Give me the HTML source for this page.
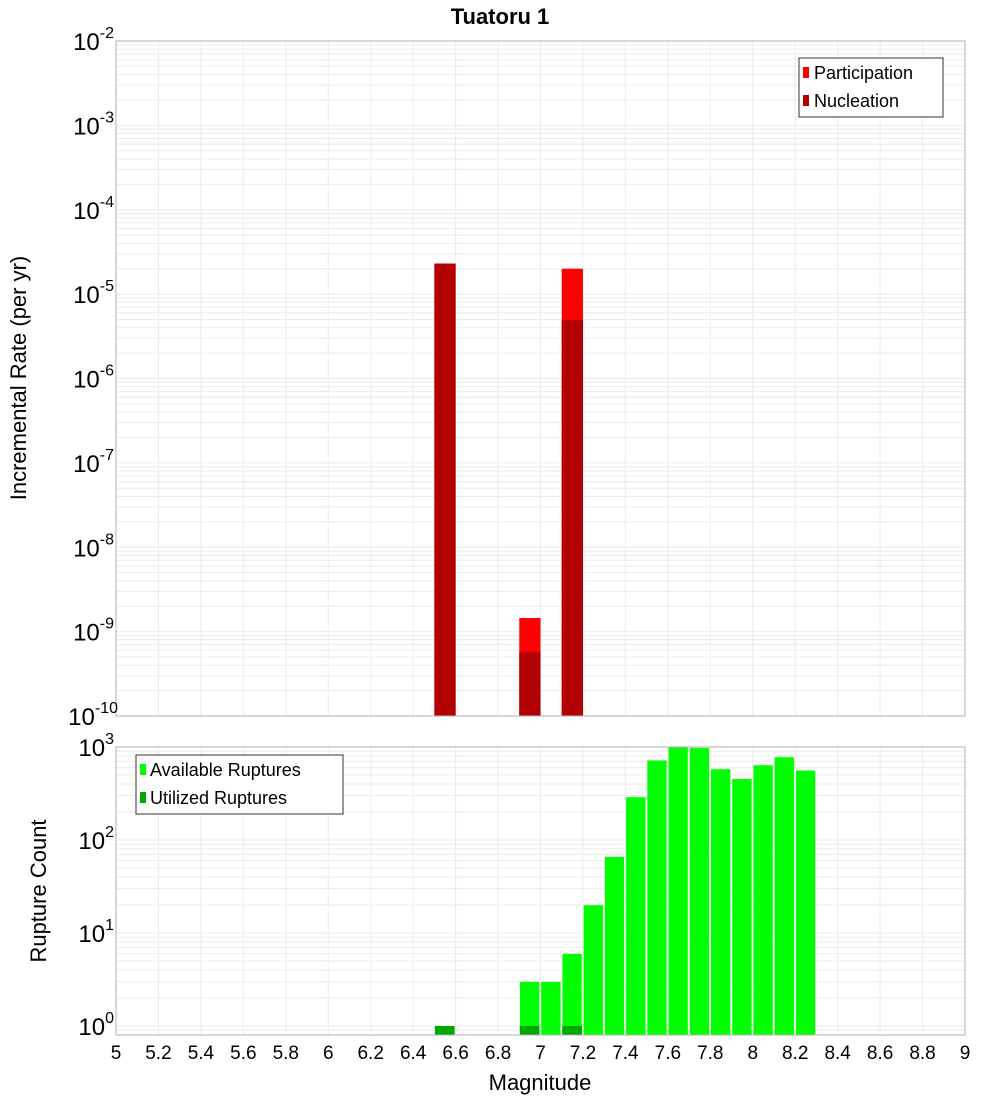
<!DOCTYPE html>
<html><head><meta charset="utf-8"><style>
body{margin:0;background:#fff;width:1000px;height:1100px;overflow:hidden}
svg{font-family:"Liberation Sans","DejaVu Sans",sans-serif}
</style></head><body>
<svg id="c" width="1000" height="1100"></svg>
<script>
const binCenters=[6.55,6.95,7.15];
const participation=[2.3e-5,1.45e-9,2.0e-5];
const nucleation=[2.3e-5,5.7e-10,4.9e-6];
const countCenters=[6.95,7.05,7.15,7.25,7.35,7.45,7.55,7.65,7.75,7.85,7.95,8.05,8.15,8.25];
const available=[3,3,6,20,66,290,720,1000,980,580,455,640,780,560];
const utilCenters=[6.55,6.95,7.15];
const utilized=[1,1,1];
const xTicks=["5","5.2","5.4","5.6","5.8","6","6.2","6.4","6.6","6.8","7","7.2","7.4","7.6","7.8","8","8.2","8.4","8.6","8.8","9"];
const topExps=[-2,-3,-4,-5,-6,-7,-8,-9,-10];
const botExps=[3,2,1,0];

const NS="http://www.w3.org/2000/svg",svg=document.getElementById('c');
function el(t,a,p){const e=document.createElementNS(NS,t);for(const k in a)e.setAttribute(k,a[k]);(p||svg).appendChild(e);return e;}
const X0=116,X1=965;
const x=m=>X0+(m-5)/4*(X1-X0);
const T0=41,T1=716;
const yTop=v=>T0+(-2-Math.log10(v))*(T1-T0)/8;
const B0=747,B1=1035,BPD=93,BZ=1026;
const yBot=v=>BZ-Math.log10(v)*BPD;

function grid(y0,y1,yf,lo,hi){
  const g=el('g',{});
  
  
  for(let e=lo;e<hi;e++)for(let k=1;k<10;k++){const y=yf(k*Math.pow(10,e));if(y>=y0&&y<=y1)el('line',{x1:X0,x2:X1,y1:y,y2:y,stroke:'#ebebeb','stroke-width':1},g);}
  xTicks.forEach(t=>{const xx=x(+t);el('line',{x1:xx,x2:xx,y1:y0,y2:y1,stroke:'#ebebeb','stroke-width':1},g);});
}
grid(T0,T1,yTop,-10,-2);
grid(B0,B1,yBot,-1,3);

// top bars
binCenters.forEach((m,i)=>{
  let r=el('rect',{x:x(m-0.05),width:x(m+0.05)-x(m-0.05),y:yTop(participation[i]),height:T1-yTop(participation[i]),fill:'#ff0000'});
  
  
  r=el('rect',{x:x(m-0.05),width:x(m+0.05)-x(m-0.05),y:yTop(nucleation[i]),height:T1-yTop(nucleation[i]),fill:'#b30000'});
  
  
});
// bottom bars
countCenters.forEach((m,i)=>{
  const y=Math.max(B0,yBot(available[i]));
  const r=el('rect',{x:x(m-0.05)+0.5,width:x(m+0.05)-x(m-0.05)-1.5,y:y,height:B1-y,fill:'#00ff00',stroke:'#d8f8d8','stroke-width':0.5});
  
  
});
utilCenters.forEach((m,i)=>{
  const y=yBot(utilized[i]);
  const r=el('rect',{x:x(m-0.05)+0.5,width:x(m+0.05)-x(m-0.05)-1.5,y:y,height:B1-y,fill:'#00a800'});
  
  
});
// frames
el('rect',{x:X0,y:T0,width:X1-X0,height:T1-T0,fill:'none',stroke:'#b0b0b0'});
el('rect',{x:X0,y:B0,width:X1-X0,height:B1-B0,fill:'none',stroke:'#b0b0b0'});
// y labels
function expLabel(xr,y,e,name){
  const t=el('text',{x:xr,y:y,'font-size':24,'text-anchor':'end',fill:'#000'});
  
  
  const a=el('tspan',{},t);a.textContent='10';
  const b=el('tspan',{'font-size':16,dy:-12},t);b.textContent=String(e);
}
topExps.forEach(e=>expLabel(e<=-10?118:114,yTop(Math.pow(10,e))+9,e,'y-tick-label'));
botExps.forEach(e=>expLabel(114,yBot(Math.pow(10,e))+9,e,'y-tick-label'));
xTicks.forEach(t=>{const tx=el('text',{x:x(+t),y:1059,'font-size':19,'text-anchor':'middle'});tx.textContent=t;
  
  });
</script>
<svg width="1000" height="1100" style="position:absolute;left:0;top:0">
<text x="500" y="24" font-size="22" font-weight="bold" text-anchor="middle" font-family="Liberation Sans, sans-serif">Tuatoru 1</text>
<text transform="translate(26,378) rotate(-90)" font-size="22" text-anchor="middle" font-family="Liberation Sans, sans-serif">Incremental Rate (per yr)</text>
<text transform="translate(46,891) rotate(-90)" font-size="22" text-anchor="middle" font-family="Liberation Sans, sans-serif">Rupture Count</text>
<text x="540" y="1090" font-size="22" text-anchor="middle" font-family="Liberation Sans, sans-serif">Magnitude</text>
<g font-family="Liberation Sans, sans-serif" font-size="18">
<rect x="799" y="58" width="144" height="59" fill="#fff" stroke="#333"/>
<rect x="803" y="67" width="6" height="11" fill="#ff0000"/>
<text x="814" y="79">Participation</text>
<rect x="803" y="95" width="6" height="11" fill="#b30000"/>
<text x="814" y="107">Nucleation</text>
</g>
<g font-family="Liberation Sans, sans-serif" font-size="18">
<rect x="136" y="755" width="207" height="59" fill="#fff" stroke="#333"/>
<rect x="140" y="764" width="6" height="11" fill="#00ff00"/>
<text x="150" y="776">Available Ruptures</text>
<rect x="140" y="792" width="6" height="11" fill="#00a800"/>
<text x="150" y="804">Utilized Ruptures</text>
</g>
</svg>
</body></html>
